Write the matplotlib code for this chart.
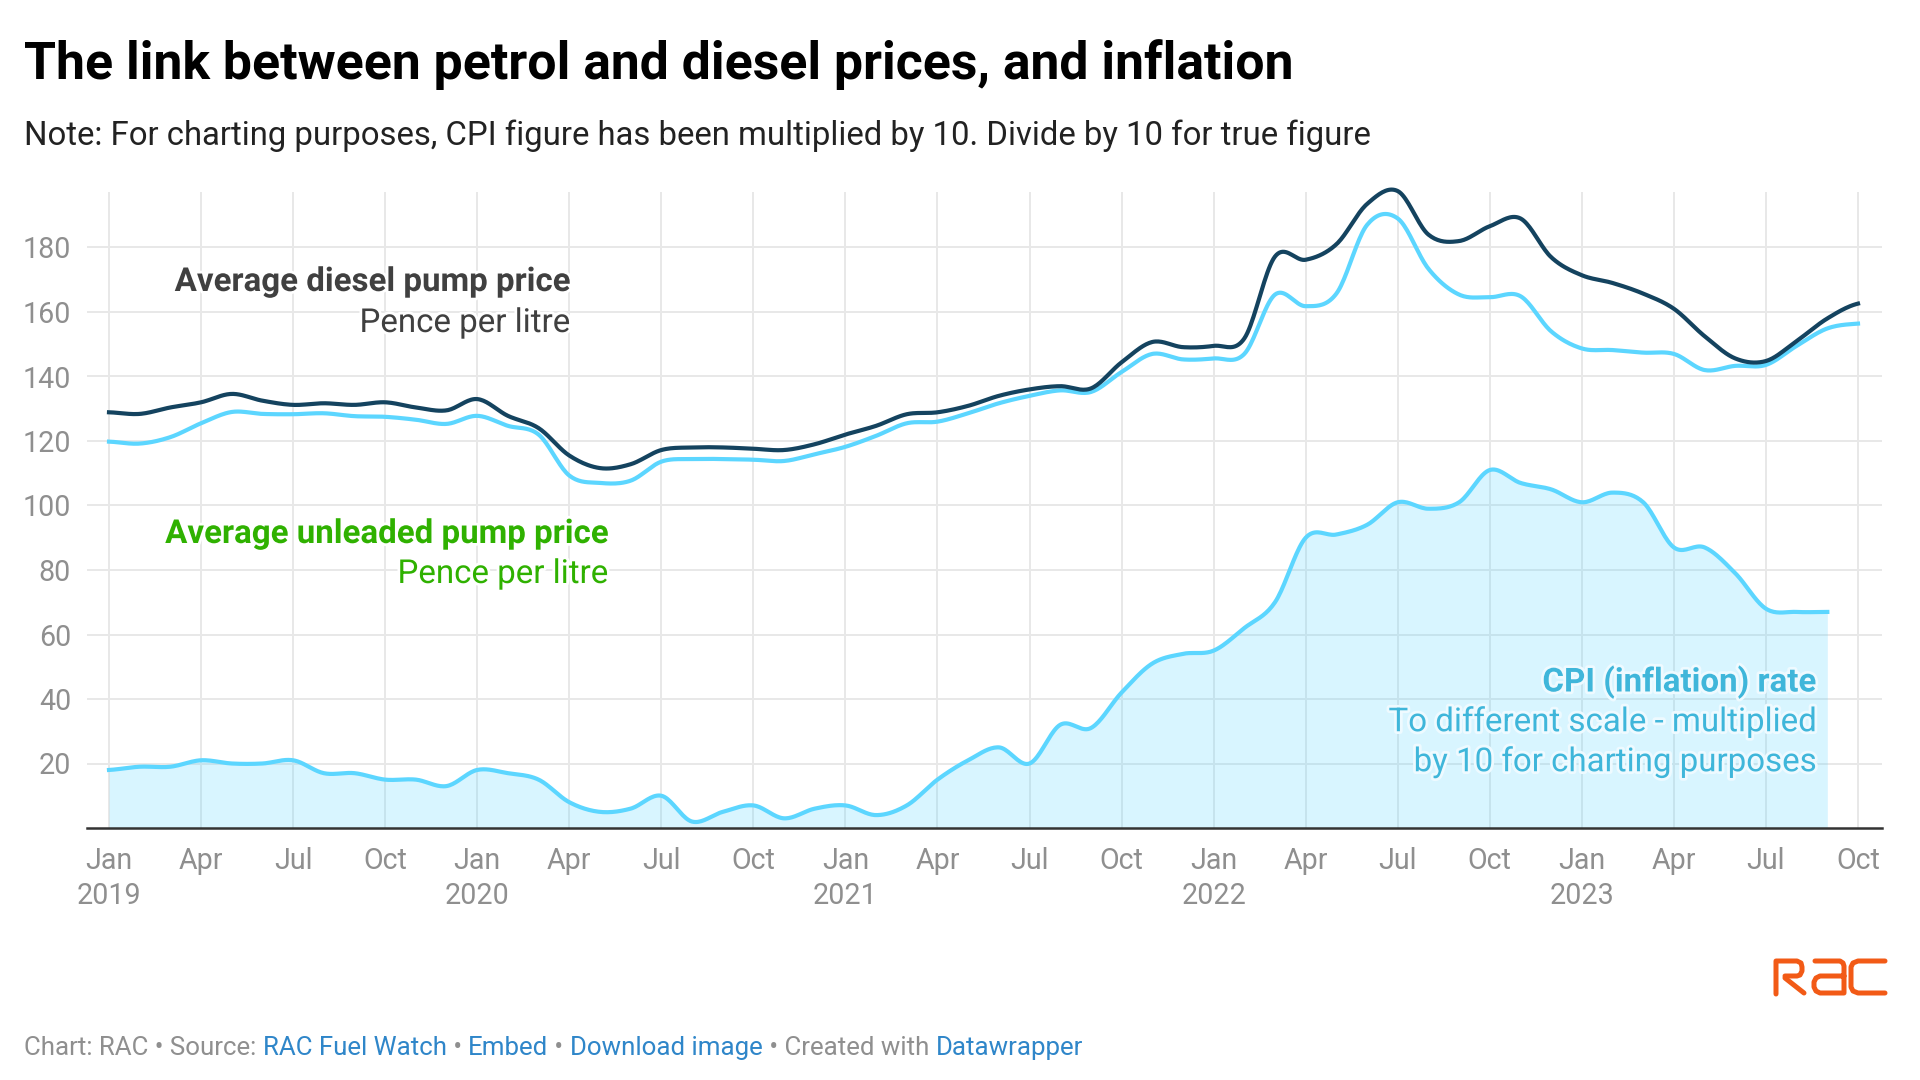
import numpy as np
import matplotlib
matplotlib.use("Agg")
import matplotlib.pyplot as plt
import matplotlib.patheffects as pe
from matplotlib.lines import Line2D

plt.rcParams["font.family"] = ["Roboto", "DejaVu Sans"]

W, H = 1920, 1080

# monthly values, Jan 2019 to Oct 2023
diesel = [128.9, 128.4, 130.4, 132.0, 134.6, 132.5, 131.2, 131.7, 131.2, 132.0, 130.4, 129.5,
          133.0, 127.8, 124.0, 115.5, 111.6, 112.8, 117.2, 118.0, 118.0, 117.6, 117.2, 119.0,
          122.0, 124.7, 128.3, 128.9, 130.9, 134.0, 136.0, 137.0, 136.3, 144.4, 150.7, 149.1,
          149.5, 151.8, 177.2, 176.2, 181.0, 193.5, 197.5, 184.0, 182.0, 186.6, 189.0, 177.0,
          171.4, 169.0, 165.7, 161.0, 152.5, 145.6, 144.8, 151.0, 158.0, 162.6]
unleaded = [119.8, 119.2, 121.2, 125.5, 129.0, 128.4, 128.3, 128.6, 127.7, 127.5, 126.6, 125.3,
            127.8, 124.7, 122.0, 109.3, 107.0, 107.7, 113.6, 114.4, 114.4, 114.2, 113.8, 115.9,
            118.2, 121.6, 125.5, 126.0, 128.6, 131.7, 134.0, 135.7, 135.2, 141.4, 147.0, 145.3,
            145.6, 147.0, 165.4, 161.8, 165.7, 187.0, 189.0, 173.4, 165.4, 164.6, 164.9, 154.0,
            148.7, 148.2, 147.4, 147.0, 142.0, 143.3, 143.6, 149.5, 154.9, 156.4]
# CPI x 10, stops at Sep 2023
cpi = [18, 19, 19, 21, 20, 20, 21, 17, 17, 15, 15, 13,
       18, 17, 15, 8, 5, 6, 10, 2, 5, 7, 3, 6,
       7, 4, 7, 15, 21, 25, 20, 32, 31, 42, 51, 54,
       55, 62, 70, 90, 91, 94, 101, 99, 101, 111, 107, 105,
       101, 104, 101, 87, 87, 79, 68, 67, 67]

y_ticks = [20, 40, 60, 80, 100, 120, 140, 160, 180]
month_names = ["Jan", "Apr", "Jul", "Oct"]
years = [2019, 2020, 2021, 2022, 2023]

DIESEL_COL = "#14435f"
UNLEADED_COL = "#5cd6ff"
GREY = "#8f8f8f"
LINK = "#2f86c9"
LOGO_COL = "#f25a16"


def smooth(vals, n=20):
    """Catmull-Rom curve through the monthly values"""
    v = np.array(vals, dtype=float)
    p = np.concatenate([[v[0]], v, [v[-1]]])
    xs, ys = [], []
    t = np.linspace(0, 1, n, endpoint=False)
    for i in range(len(v) - 1):
        p0, p1, p2, p3 = p[i], p[i + 1], p[i + 2], p[i + 3]
        ys.append(0.5 * (2 * p1 + (p2 - p0) * t + (2 * p0 - 5 * p1 + 4 * p2 - p3) * t ** 2
                         + (3 * p1 - p0 - 3 * p2 + p3) * t ** 3))
        xs.append(i + t)
    xs.append([len(v) - 1])
    ys.append([v[-1]])
    return np.concatenate(xs), np.concatenate(ys)


fig = plt.figure(figsize=(W / 100, H / 100), dpi=100)
# plot area in pixels: left 87, right 1882, top 192, baseline 828
ax = fig.add_axes([87 / W, 1 - 828 / H, (1882 - 87) / W, (828 - 192) / H])
px_month = (1858 - 109) / 57
ax.set_xlim(-(109 - 87) / px_month, 57 + (1882 - 1858) / px_month)
ax.set_ylim(0, 636 / 3.225)

for s in ["top", "left", "right"]:
    ax.spines[s].set_visible(False)
ax.spines["bottom"].set_color("#333333")
ax.spines["bottom"].set_linewidth(1.8)
ax.spines["bottom"].set_zorder(6)

ax.set_axisbelow(True)
ax.grid(color="#e8e8e8", linewidth=1.4)

x_ticks = list(range(0, 58, 3))
x_labels = []
for i in x_ticks:
    label = month_names[(i % 12) // 3]
    if i % 12 == 0:
        label += "\n" + str(years[i // 12])
    x_labels.append(label)
ax.set_xticks(x_ticks)
ax.set_xticklabels(x_labels, linespacing=1.32)
ax.set_yticks(y_ticks)
ax.tick_params(axis="both", length=0, labelcolor=GREY, labelsize=20.6)
ax.tick_params(axis="x", pad=14)
ax.tick_params(axis="y", pad=11.5)

x_c, y_c = smooth(cpi)
ax.fill_between(x_c, 0, y_c, color=UNLEADED_COL, alpha=0.24, linewidth=0, zorder=2)
ax.plot(x_c, y_c, color=UNLEADED_COL, linewidth=3, zorder=3)
x_u, y_u = smooth(unleaded)
ax.plot(x_u, y_u, color=UNLEADED_COL, linewidth=3, zorder=4, clip_on=False)
x_d, y_d = smooth(diesel)
ax.plot(x_d, y_d, color=DIESEL_COL, linewidth=3, zorder=5, clip_on=False)


def px_text(x, y, s, **kw):
    return fig.text(x / W, 1 - y / H, s, va="center", **kw)


halo = [pe.withStroke(linewidth=4, foreground="white")]
px_text(570, 282, "Average diesel pump price", ha="right", color="#404040", fontsize=23.8,
        fontweight="bold", path_effects=halo)
px_text(570, 323, "Pence per litre", ha="right", color="#404040", fontsize=23.8, path_effects=halo)
px_text(608, 534, "Average unleaded pump price", ha="right", color="#2fb100", fontsize=23.8,
        fontweight="bold", path_effects=halo)
px_text(608, 574, "Pence per litre", ha="right", color="#2fb100", fontsize=23.8, path_effects=halo)
cpi_halo = [pe.withStroke(linewidth=4, foreground="#eefaff")]
px_text(1816, 682, "CPI (inflation) rate", ha="right", color="#3fb6da", fontsize=23.8,
        fontweight="bold", path_effects=cpi_halo)
px_text(1816, 722, "To different scale - multiplied", ha="right", color="#3fb6da", fontsize=23.8,
        path_effects=cpi_halo)
px_text(1816, 762, "by 10 for charting purposes", ha="right", color="#3fb6da", fontsize=23.8,
        path_effects=cpi_halo)

px_text(24, 65, "The link between petrol and diesel prices, and inflation", ha="left",
        color="black", fontsize=37.3, fontweight="bold")
px_text(24, 136, "Note: For charting purposes, CPI figure has been multiplied by 10. Divide by 10 for true figure",
        ha="left", color="#222222", fontsize=23.7)

# footer, pieces placed one after the other
renderer = fig.canvas.get_renderer()
pieces = [("Chart: RAC • Source: ", GREY), ("RAC Fuel Watch", LINK), (" • ", GREY), ("Embed", LINK),
          (" • ", GREY), ("Download image", LINK), (" • Created with ", GREY), ("Datawrapper", LINK)]
x_pos = 24
for s, c in pieces:
    t = px_text(x_pos, 1048, s.replace(" ", "\u00a0"), ha="left", color=c, fontsize=18.65)
    x_pos = t.get_window_extent(renderer).x1

# RAC logo drawn as strokes, pixel positions
logo_strokes = [
    [(1776, 994), (1776, 961), (1797, 961), (1801, 963), (1802, 967), (1802, 971), (1800, 975), (1797, 976), (1785, 976)],
    [(1785, 978), (1804, 993)],
    [(1815, 961), (1840, 961), (1843, 963), (1844, 966), (1844, 993), (1820, 993), (1816, 991), (1814, 987),
     (1814, 982), (1816, 978), (1820, 976), (1844, 976)],
    [(1885, 961), (1858, 961), (1853, 963), (1851, 967), (1851, 987), (1853, 991), (1858, 993), (1885, 993)],
]
for stroke in logo_strokes:
    xs = [p[0] / W for p in stroke]
    ys = [1 - p[1] / H for p in stroke]
    fig.add_artist(Line2D(xs, ys, transform=fig.transFigure, color=LOGO_COL, linewidth=3.6,
                          solid_capstyle="round", solid_joinstyle="round"))

fig.savefig("out.png", dpi=100)
